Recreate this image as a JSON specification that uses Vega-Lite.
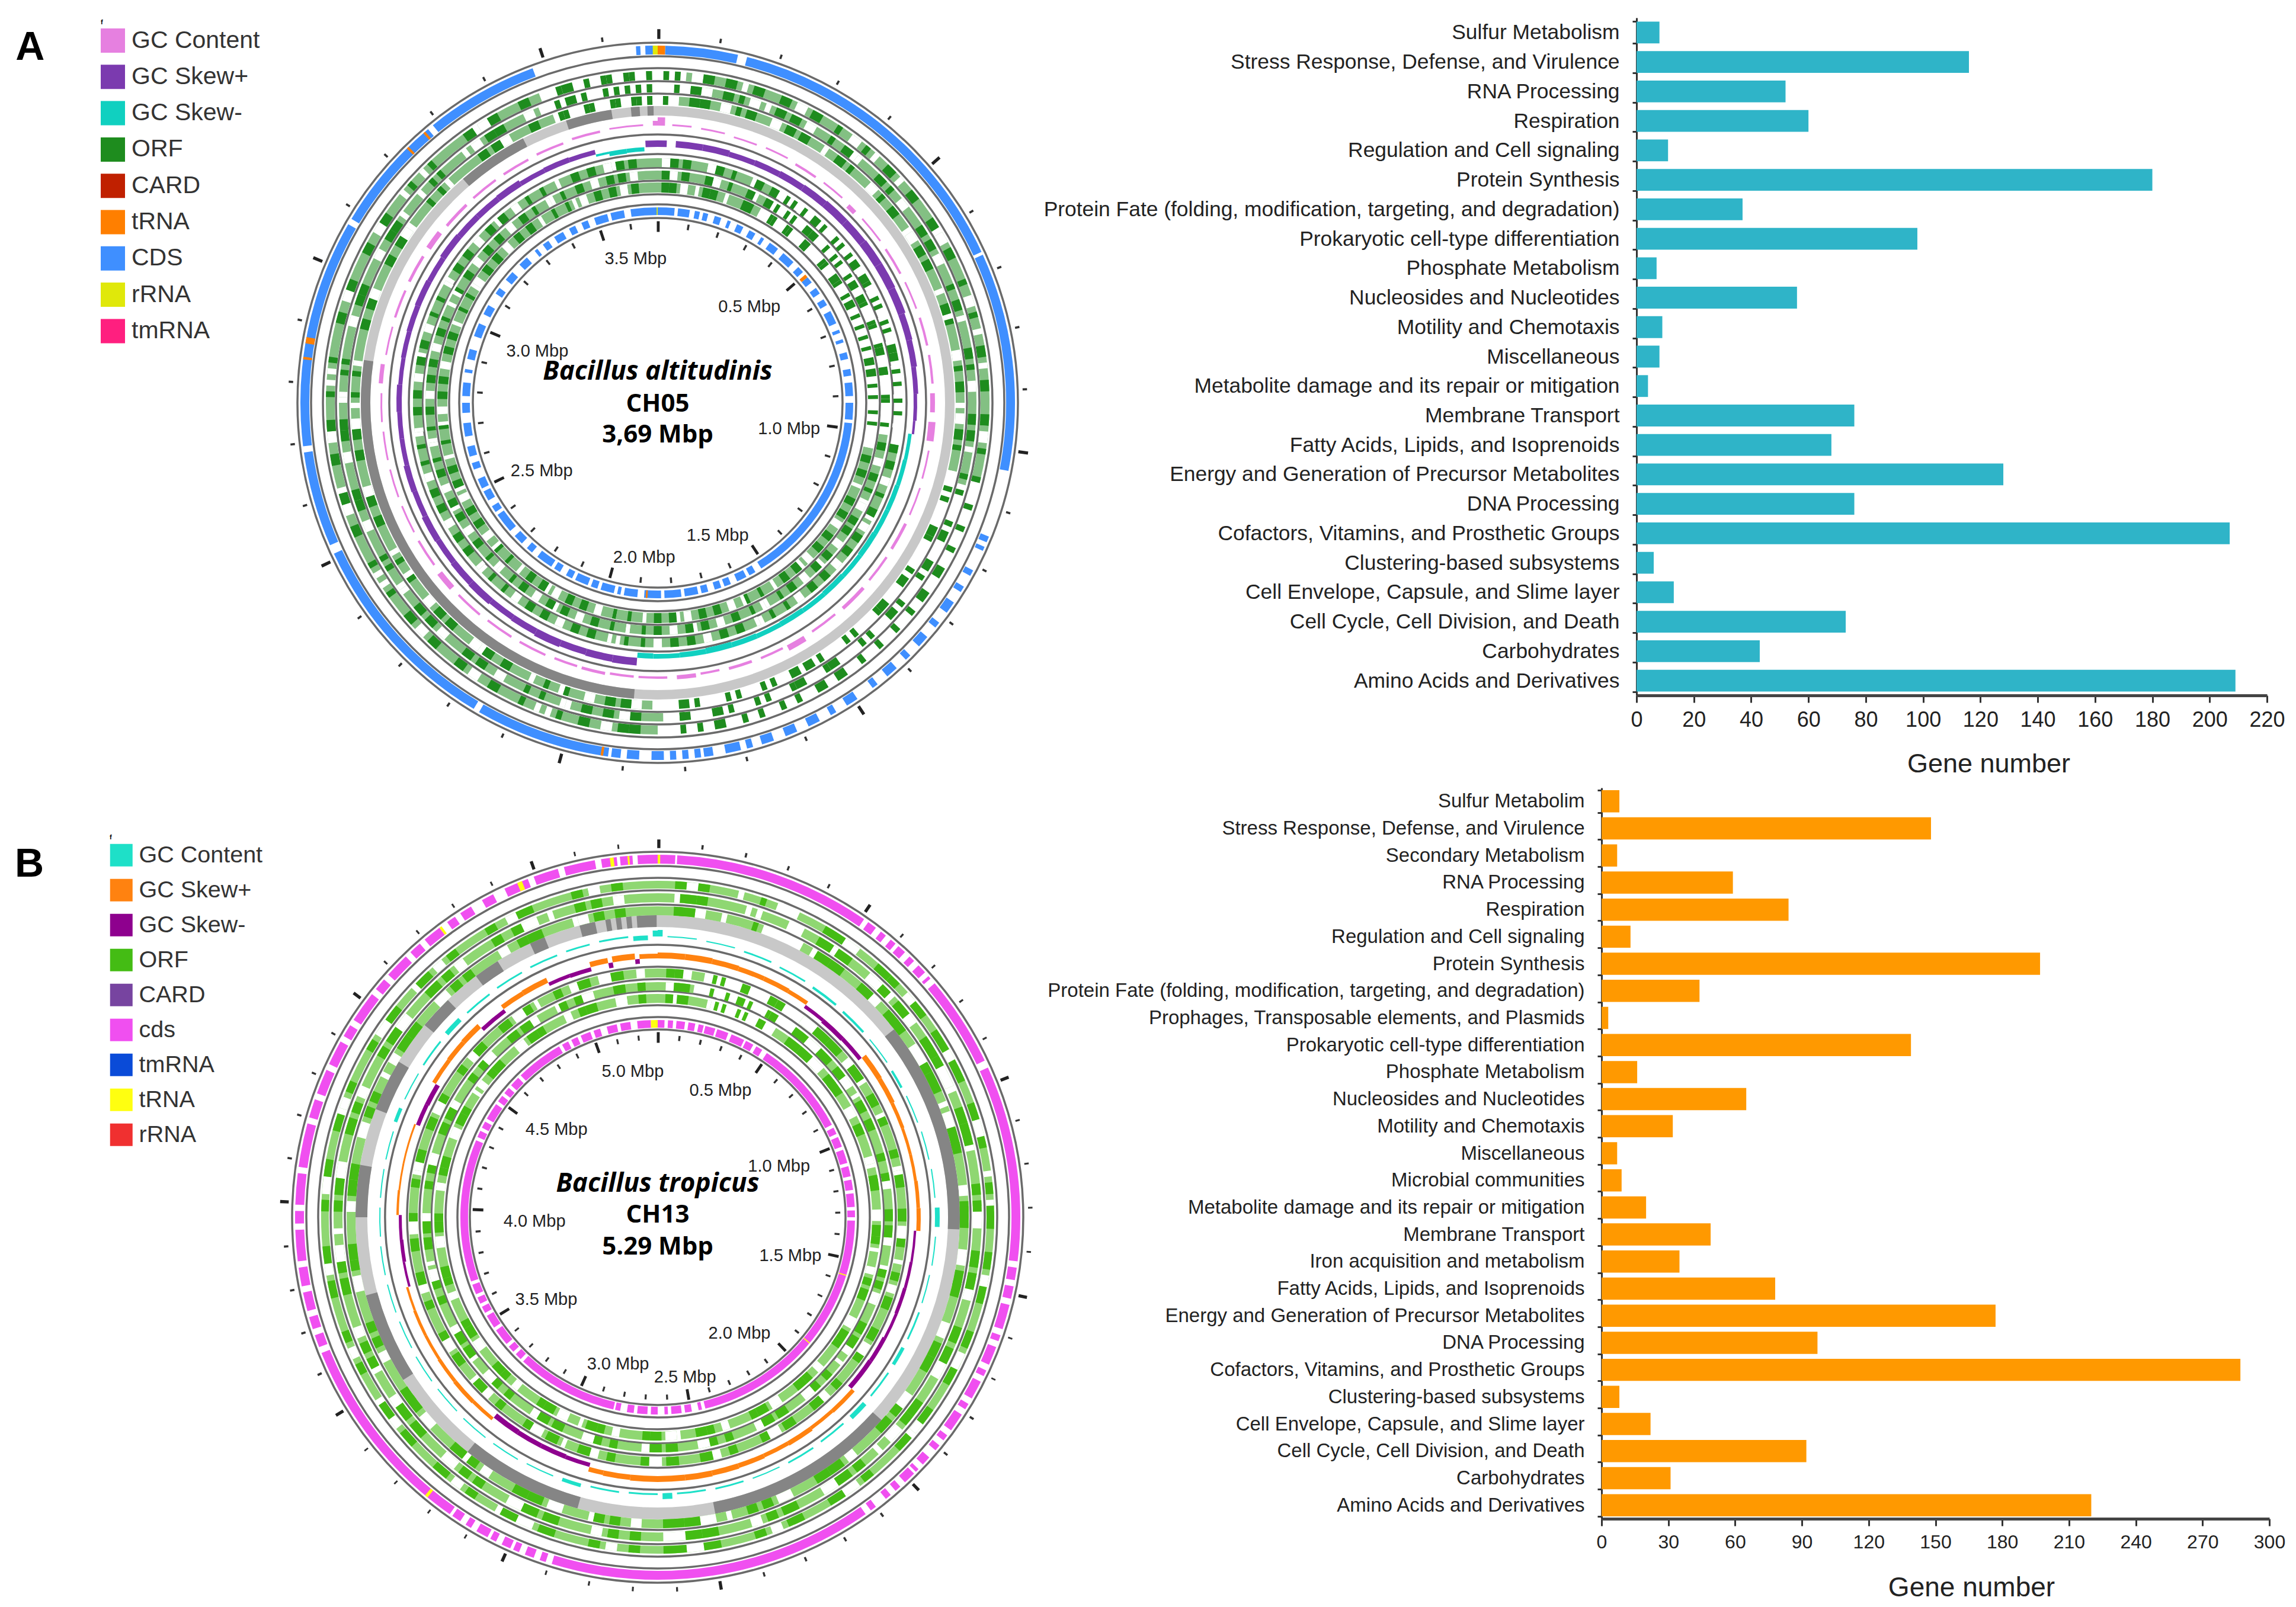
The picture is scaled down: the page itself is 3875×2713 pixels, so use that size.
{"$schema":"https://vega.github.io/schema/vega-lite/v6.json","padding":{"top":13,"left":0,"right":0,"bottom":0},"background":"white","spacing":-30,"config":{"view":{"stroke":null}},
"datasets":{
"barA":[{"c":"Sulfur Metabolism","v":8},{"c":"Stress Response, Defense, and Virulence","v":116},{"c":"RNA Processing","v":52},{"c":"Respiration","v":60},{"c":"Regulation and Cell signaling","v":11},{"c":"Protein Synthesis","v":180},{"c":"Protein Fate (folding, modification, targeting, and degradation)","v":37},{"c":"Prokaryotic cell-type differentiation","v":98},{"c":"Phosphate Metabolism","v":7},{"c":"Nucleosides and Nucleotides","v":56},{"c":"Motility and Chemotaxis","v":9},{"c":"Miscellaneous","v":8},{"c":"Metabolite damage and its repair or mitigation","v":4},{"c":"Membrane Transport","v":76},{"c":"Fatty Acids, Lipids, and Isoprenoids","v":68},{"c":"Energy and Generation of Precursor Metabolites","v":128},{"c":"DNA Processing","v":76},{"c":"Cofactors, Vitamins, and Prosthetic Groups","v":207},{"c":"Clustering-based subsystems","v":6},{"c":"Cell Envelope, Capsule, and Slime layer","v":13},{"c":"Cell Cycle, Cell Division, and Death","v":73},{"c":"Carbohydrates","v":43},{"c":"Amino Acids and Derivatives","v":209}],
"barB":[{"c":"Sulfur Metabolim","v":8},{"c":"Stress Response, Defense, and Virulence","v":148},{"c":"Secondary Metabolism","v":7},{"c":"RNA Processing","v":59},{"c":"Respiration","v":84},{"c":"Regulation and Cell signaling","v":13},{"c":"Protein Synthesis","v":197},{"c":"Protein Fate (folding, modification, targeting, and degradation)","v":44},{"c":"Prophages, Transposable elements, and Plasmids","v":3},{"c":"Prokaryotic cell-type differentiation","v":139},{"c":"Phosphate Metabolism","v":16},{"c":"Nucleosides and Nucleotides","v":65},{"c":"Motility and Chemotaxis","v":32},{"c":"Miscellaneous","v":7},{"c":"Microbial communities","v":9},{"c":"Metabolite damage and its repair or mitigation","v":20},{"c":"Membrane Transport","v":49},{"c":"Iron acquisition and metabolism","v":35},{"c":"Fatty Acids, Lipids, and Isoprenoids","v":78},{"c":"Energy and Generation of Precursor Metabolites","v":177},{"c":"DNA Processing","v":97},{"c":"Cofactors, Vitamins, and Prosthetic Groups","v":287},{"c":"Clustering-based subsystems","v":8},{"c":"Cell Envelope, Capsule, and Slime layer","v":22},{"c":"Cell Cycle, Cell Division, and Death","v":92},{"c":"Carbohydrates","v":31},{"c":"Amino Acids and Derivatives","v":220}],
"ringsA":[{"t":1,"i":545,"o":560},{"t":2,"i":524,"o":538},{"t":3,"i":503,"o":518},{"t":4,"i":398,"o":413},{"t":5,"i":377,"o":392},{"t":6,"i":355,"o":372},{"t":7,"i":588,"o":603},{"t":8,"i":317,"o":330},{"t":9,"i":485,"o":501}],
"ringsB":[{"t":1,"i":555,"o":568},{"t":2,"i":532,"o":547},{"t":3,"i":510,"o":525},{"t":4,"i":405,"o":420},{"t":5,"i":383,"o":397},{"t":6,"i":362,"o":377},{"t":7,"i":597,"o":612},{"t":8,"i":320,"o":333},{"t":9,"i":490,"o":510}],
"altA1":[{"t":1,"i":524,"o":538},{"t":2,"i":503,"o":518},{"t":3,"i":545,"o":560},{"t":4,"i":377,"o":392},{"t":5,"i":355,"o":372},{"t":6,"i":398,"o":413}],
"altA2":[{"t":1,"i":503,"o":518},{"t":2,"i":545,"o":560},{"t":3,"i":524,"o":538},{"t":4,"i":355,"o":372},{"t":5,"i":398,"o":413},{"t":6,"i":377,"o":392}],
"altB1":[{"t":1,"i":532,"o":547},{"t":2,"i":510,"o":525},{"t":3,"i":555,"o":568},{"t":4,"i":383,"o":397},{"t":5,"i":362,"o":377},{"t":6,"i":405,"o":420}],
"altB2":[{"t":1,"i":510,"o":525},{"t":2,"i":555,"o":568},{"t":3,"i":532,"o":547},{"t":4,"i":362,"o":377},{"t":5,"i":405,"o":420},{"t":6,"i":383,"o":397}],
"linesA":[{"r":608},{"r":585},{"r":565},{"r":543},{"r":522},{"r":453},{"r":420},{"r":397},{"r":375},{"r":352},{"r":335},{"r":312}],
"linesB":[{"r":617},{"r":593},{"r":573},{"r":552},{"r":528},{"r":460},{"r":423},{"r":402},{"r":382},{"r":358},{"r":338},{"r":317}],
"labA":[{"a":351.3,"r":246,"s":"3.5 Mbp"},{"a":43.7,"r":224,"s":"0.5 Mbp"},{"a":101.2,"r":226,"s":"1.0 Mbp"},{"a":155.7,"r":246,"s":"1.5 Mbp"},{"a":185,"r":262,"s":"2.0 Mbp"},{"a":239.6,"r":227,"s":"2.5 Mbp"},{"a":293.2,"r":221,"s":"3.0 Mbp"}],
"labB":[{"a":26.3,"r":239,"s":"0.5 Mbp"},{"a":67.2,"r":222,"s":"1.0 Mbp"},{"a":106.1,"r":233,"s":"1.5 Mbp"},{"a":144.9,"r":240,"s":"2.0 Mbp"},{"a":170.3,"r":274,"s":"2.5 Mbp"},{"a":195.1,"r":257,"s":"3.0 Mbp"},{"a":233.5,"r":234,"s":"3.5 Mbp"},{"a":268,"r":208,"s":"4.0 Mbp"},{"a":310.9,"r":226,"s":"4.5 Mbp"},{"a":350.3,"r":250,"s":"5.0 Mbp"}],
"majA":[{"a":0,"b":0.35},{"a":48.78,"b":49.13},{"a":97.56,"b":97.91},{"a":146.34,"b":146.69},{"a":195.12,"b":195.47},{"a":243.9,"b":244.25},{"a":292.68,"b":293.03},{"a":341.46,"b":341.81}],
"minA":[{"a":9.76,"b":9.96},{"a":19.51,"b":19.71},{"a":29.27,"b":29.47},{"a":39.02,"b":39.22},{"a":58.54,"b":58.74},{"a":68.29,"b":68.49},{"a":78.05,"b":78.25},{"a":87.8,"b":88},{"a":107.32,"b":107.52},{"a":117.07,"b":117.27},{"a":126.83,"b":127.03},{"a":136.59,"b":136.79},{"a":156.1,"b":156.3},{"a":165.85,"b":166.05},{"a":175.61,"b":175.81},{"a":185.37,"b":185.57},{"a":204.88,"b":205.08},{"a":214.63,"b":214.83},{"a":224.39,"b":224.59},{"a":234.15,"b":234.35},{"a":253.66,"b":253.86},{"a":263.41,"b":263.61},{"a":273.17,"b":273.37},{"a":282.93,"b":283.13},{"a":302.44,"b":302.64},{"a":312.2,"b":312.4},{"a":321.95,"b":322.15},{"a":331.71,"b":331.91},{"a":351.22,"b":351.42}],
"majB":[{"a":0,"b":0.35},{"a":34.03,"b":34.38},{"a":68.05,"b":68.4},{"a":102.08,"b":102.43},{"a":136.11,"b":136.46},{"a":170.13,"b":170.48},{"a":204.16,"b":204.51},{"a":238.19,"b":238.54},{"a":272.21,"b":272.56},{"a":306.24,"b":306.59},{"a":340.26,"b":340.61}],
"minB":[{"a":6.81,"b":7},{"a":13.61,"b":13.8},{"a":20.42,"b":20.6},{"a":27.22,"b":27.4},{"a":40.83,"b":41},{"a":47.64,"b":47.8},{"a":54.44,"b":54.6},{"a":61.25,"b":61.4},{"a":74.86,"b":75},{"a":81.66,"b":81.8},{"a":88.47,"b":88.6},{"a":95.27,"b":95.4},{"a":108.88,"b":109},{"a":115.69,"b":115.8},{"a":122.5,"b":122.7},{"a":129.3,"b":129.5},{"a":142.91,"b":143.1},{"a":149.72,"b":149.9},{"a":156.52,"b":156.7},{"a":163.33,"b":163.5},{"a":176.94,"b":177.1},{"a":183.75,"b":183.9},{"a":190.55,"b":190.7},{"a":197.36,"b":197.5},{"a":210.97,"b":211.1},{"a":217.77,"b":217.9},{"a":224.58,"b":224.7},{"a":231.38,"b":231.5},{"a":244.99,"b":245.2},{"a":251.8,"b":252},{"a":258.6,"b":258.8},{"a":265.41,"b":265.6},{"a":279.02,"b":279.2},{"a":285.82,"b":286},{"a":292.63,"b":292.8},{"a":299.43,"b":299.6},{"a":313.04,"b":313.2},{"a":319.85,"b":320},{"a":326.65,"b":326.8},{"a":333.46,"b":333.6},{"a":347.07,"b":347.2},{"a":353.87,"b":354}],
"greyDarkA":[{"t":9,"a":184.6,"b":278.3},{"t":9,"a":319,"b":333},{"t":9,"a":342,"b":351},{"t":9,"a":354.8,"b":356.5},{"t":9,"a":358,"b":359.2}],
"greyDarkB":[{"t":9,"a":51.5,"b":92.3},{"t":9,"a":132.2,"b":169},{"t":9,"a":195.4,"b":219},{"t":9,"a":237.4,"b":255},{"t":9,"a":270,"b":280},{"t":9,"a":291,"b":301},{"t":9,"a":309.5,"b":316},{"t":9,"a":323,"b":328},{"t":9,"a":335,"b":338},{"t":9,"a":345,"b":348},{"t":9,"a":350,"b":351},{"t":9,"a":352,"b":353},{"t":9,"a":354,"b":355},{"t":9,"a":356,"b":359.8}],
"cdsA":[{"t":7,"a":356.5,"b":357.2},{"t":7,"a":358,"b":359.3},{"t":7,"a":1.2,"b":13},{"t":7,"a":14.5,"b":65},{"t":7,"a":65.5,"b":101},{"t":7,"a":112,"b":113},{"t":7,"a":113.8,"b":114.5},{"t":7,"a":118,"b":119},{"t":7,"a":121,"b":122},{"t":7,"a":124,"b":126},{"t":7,"a":128,"b":129},{"t":7,"a":131,"b":133},{"t":7,"a":135,"b":136},{"t":7,"a":138,"b":140},{"t":7,"a":142,"b":143},{"t":7,"a":146,"b":148},{"t":7,"a":150,"b":151},{"t":7,"a":153,"b":155},{"t":7,"a":157,"b":159},{"t":7,"a":161,"b":163},{"t":7,"a":164.5,"b":165.5},{"t":7,"a":166.5,"b":169},{"t":7,"a":171,"b":172.5},{"t":7,"a":173,"b":174},{"t":7,"a":175,"b":176},{"t":7,"a":177,"b":178},{"t":7,"a":179,"b":181},{"t":7,"a":183,"b":185},{"t":7,"a":186,"b":187.5},{"t":7,"a":188,"b":210},{"t":7,"a":211,"b":245},{"t":7,"a":246.5,"b":262},{"t":7,"a":263,"b":300},{"t":7,"a":301,"b":320},{"t":7,"a":321,"b":339.5},
{"t":8,"a":352,"b":360},{"t":8,"a":0,"b":5},{"t":8,"a":6,"b":9.5},{"t":8,"a":11,"b":12.5},{"t":8,"a":13.5,"b":15},{"t":8,"a":17,"b":19},{"t":8,"a":21,"b":22},{"t":8,"a":24,"b":26},{"t":8,"a":28,"b":30},{"t":8,"a":32,"b":33},{"t":8,"a":35,"b":38},{"t":8,"a":40,"b":44},{"t":8,"a":46,"b":48},{"t":8,"a":50,"b":52},{"t":8,"a":54,"b":56},{"t":8,"a":58,"b":60},{"t":8,"a":62,"b":66},{"t":8,"a":68,"b":69},{"t":8,"a":71,"b":72},{"t":8,"a":75,"b":77},{"t":8,"a":80,"b":82},{"t":8,"a":84,"b":88},{"t":8,"a":90,"b":95},{"t":8,"a":96,"b":148},{"t":8,"a":150,"b":152},{"t":8,"a":153,"b":156},{"t":8,"a":158,"b":160},{"t":8,"a":161,"b":163},{"t":8,"a":165,"b":167},{"t":8,"a":168,"b":172},{"t":8,"a":173,"b":178},{"t":8,"a":179,"b":184},{"t":8,"a":186,"b":190},{"t":8,"a":191,"b":192},{"t":8,"a":193,"b":197},{"t":8,"a":198,"b":200},{"t":8,"a":201,"b":205},{"t":8,"a":206,"b":208},{"t":8,"a":210,"b":212},{"t":8,"a":213,"b":218},{"t":8,"a":220,"b":222},{"t":8,"a":224,"b":227},{"t":8,"a":229,"b":235},{"t":8,"a":236,"b":238},{"t":8,"a":240,"b":243},{"t":8,"a":244,"b":247},{"t":8,"a":250,"b":252},{"t":8,"a":254,"b":257},{"t":8,"a":260,"b":264},{"t":8,"a":267,"b":270},{"t":8,"a":272,"b":276},{"t":8,"a":279,"b":280},{"t":8,"a":283,"b":286},{"t":8,"a":290,"b":294},{"t":8,"a":297,"b":300},{"t":8,"a":304,"b":306},{"t":8,"a":309,"b":312},{"t":8,"a":315,"b":318},{"t":8,"a":321,"b":322},{"t":8,"a":324,"b":326},{"t":8,"a":328,"b":331},{"t":8,"a":333,"b":335},{"t":8,"a":337,"b":339},{"t":8,"a":341,"b":345},{"t":8,"a":346,"b":350}],
"cdsB":[{"t":7,"a":0,"b":2.8},{"t":7,"a":3.1,"b":34.7},{"t":7,"a":35.5,"b":37},{"t":7,"a":38,"b":39},{"t":7,"a":40,"b":41},{"t":7,"a":41.6,"b":43},{"t":7,"a":44,"b":45},{"t":7,"a":46,"b":47.5},{"t":7,"a":48.3,"b":48.8},{"t":7,"a":49.8,"b":64.4},{"t":7,"a":65.6,"b":97},{"t":7,"a":98,"b":100},{"t":7,"a":101,"b":103},{"t":7,"a":104,"b":108},{"t":7,"a":109,"b":110},{"t":7,"a":111,"b":114},{"t":7,"a":115,"b":116},{"t":7,"a":117,"b":120},{"t":7,"a":121,"b":122},{"t":7,"a":123,"b":126},{"t":7,"a":127,"b":128},{"t":7,"a":129,"b":130},{"t":7,"a":131.5,"b":133},{"t":7,"a":134,"b":134.6},{"t":7,"a":135,"b":137},{"t":7,"a":138,"b":139},{"t":7,"a":140,"b":141},{"t":7,"a":143,"b":144},{"t":7,"a":145,"b":197},{"t":7,"a":198,"b":199},{"t":7,"a":200,"b":201.5},{"t":7,"a":202.5,"b":203.5},{"t":7,"a":204,"b":205.5},{"t":7,"a":206.5,"b":207.5},{"t":7,"a":208,"b":210},{"t":7,"a":211,"b":212},{"t":7,"a":213,"b":214.5},{"t":7,"a":215,"b":248},{"t":7,"a":249,"b":251},{"t":7,"a":252,"b":254},{"t":7,"a":255,"b":258},{"t":7,"a":259,"b":262},{"t":7,"a":263,"b":268},{"t":7,"a":269,"b":271},{"t":7,"a":272,"b":277},{"t":7,"a":278,"b":285},{"t":7,"a":286,"b":289},{"t":7,"a":290,"b":294},{"t":7,"a":295,"b":299},{"t":7,"a":300,"b":302},{"t":7,"a":303,"b":308},{"t":7,"a":309,"b":311},{"t":7,"a":312,"b":316},{"t":7,"a":317,"b":319},{"t":7,"a":320,"b":323},{"t":7,"a":324.5,"b":326},{"t":7,"a":327,"b":329},{"t":7,"a":331,"b":333},{"t":7,"a":335,"b":339},{"t":7,"a":340,"b":344},{"t":7,"a":345,"b":350},{"t":7,"a":351,"b":353.5},{"t":7,"a":354,"b":356},{"t":7,"a":356.8,"b":360},
{"t":8,"a":0,"b":2},{"t":8,"a":3,"b":4.5},{"t":8,"a":5.5,"b":8},{"t":8,"a":9,"b":11},{"t":8,"a":12,"b":13.5},{"t":8,"a":14,"b":17},{"t":8,"a":17.6,"b":21},{"t":8,"a":22,"b":26},{"t":8,"a":26.6,"b":29},{"t":8,"a":30,"b":32},{"t":8,"a":33.6,"b":62},{"t":8,"a":63,"b":65},{"t":8,"a":66,"b":69},{"t":8,"a":70,"b":74},{"t":8,"a":75,"b":78},{"t":8,"a":79,"b":82},{"t":8,"a":83,"b":87},{"t":8,"a":88,"b":90},{"t":8,"a":91,"b":166},{"t":8,"a":167,"b":168},{"t":8,"a":170,"b":172},{"t":8,"a":173,"b":176},{"t":8,"a":177,"b":178},{"t":8,"a":180,"b":182},{"t":8,"a":183,"b":186},{"t":8,"a":187,"b":189},{"t":8,"a":191,"b":192.5},{"t":8,"a":193,"b":223},{"t":8,"a":224,"b":226},{"t":8,"a":227,"b":229},{"t":8,"a":230,"b":235},{"t":8,"a":236,"b":240},{"t":8,"a":241,"b":243},{"t":8,"a":244,"b":246},{"t":8,"a":247,"b":250},{"t":8,"a":251,"b":293},{"t":8,"a":294,"b":296},{"t":8,"a":297,"b":299},{"t":8,"a":300,"b":305},{"t":8,"a":306,"b":308},{"t":8,"a":309,"b":311},{"t":8,"a":312,"b":315},{"t":8,"a":316,"b":330},{"t":8,"a":331,"b":333},{"t":8,"a":334,"b":336},{"t":8,"a":337,"b":340},{"t":8,"a":341,"b":343},{"t":8,"a":345,"b":348},{"t":8,"a":349,"b":352},{"t":8,"a":354,"b":358}],
"rnaA":[{"t":7,"a":0,"b":1.2,"f":"tRNA"},{"t":7,"a":359.2,"b":360,"f":"rRNA"},{"t":7,"a":319,"b":319.4,"f":"tRNA"},{"t":7,"a":315.4,"b":315.8,"f":"tRNA"},{"t":7,"a":279.6,"b":280.6,"f":"tRNA"},{"t":7,"a":277,"b":277.4,"f":"tRNA"},{"t":7,"a":188.8,"b":189.2,"f":"tRNA"},{"t":8,"a":359.7,"b":360,"f":"rRNA"},{"t":8,"a":49,"b":50,"f":"tRNA"},{"t":8,"a":183,"b":183.5,"f":"tRNA"}],
"rnaB":[{"t":7,"a":0,"b":0.4,"f":"tRNA"},{"t":7,"a":352.4,"b":353,"f":"tRNA"},{"t":7,"a":355.2,"b":355.5,"f":"tRNA"},{"t":7,"a":337.2,"b":338,"f":"tRNA"},{"t":7,"a":323,"b":323.4,"f":"tRNA"},{"t":7,"a":219.4,"b":219.9,"f":"tRNA"},{"t":8,"a":358,"b":360,"f":"tRNA"},{"t":8,"a":107,"b":107.3,"f":"tRNA"},{"t":8,"a":129.5,"b":129.8,"f":"tRNA"}],
"gcA":[{"a":359,"b":360,"l":468,"h":476},{"a":0,"b":1.5,"l":468,"h":482},{"a":3,"b":7,"l":468,"h":471},{"a":9,"b":14,"l":467,"h":470},{"a":16,"b":21,"l":465,"h":468},{"a":23,"b":28,"l":466,"h":469},{"a":30,"b":35,"l":463,"h":467},{"a":37,"b":42,"l":464,"h":467},{"a":44,"b":46,"l":458,"h":466},{"a":48,"b":54,"l":463,"h":466},{"a":56,"b":62,"l":462,"h":466},{"a":64,"b":70,"l":463,"h":466},{"a":72,"b":78,"l":463,"h":467},{"a":80,"b":86,"l":463,"h":467},{"a":88,"b":92,"l":460,"h":468},{"a":94,"b":98,"l":458,"h":470},{"a":100,"b":106,"l":463,"h":466},{"a":108,"b":114,"l":464,"h":467},{"a":116,"b":122,"l":463,"h":468},{"a":124,"b":130,"l":464,"h":468},{"a":132,"b":138,"l":464,"h":470},{"a":140,"b":146,"l":464,"h":468},{"a":148,"b":152,"l":464,"h":474},{"a":153,"b":158,"l":463,"h":467},{"a":160,"b":165,"l":462,"h":467},{"a":167,"b":171,"l":461,"h":465},{"a":172,"b":176,"l":461,"h":468},{"a":178,"b":184,"l":462,"h":466},{"a":185,"b":190,"l":462,"h":466},{"a":191,"b":196,"l":463,"h":468},{"a":197,"b":202,"l":463,"h":467},{"a":204,"b":210,"l":464,"h":468},{"a":212,"b":218,"l":464,"h":468},{"a":220,"b":226,"l":465,"h":469},{"a":228,"b":232,"l":462,"h":472},{"a":234,"b":240,"l":464,"h":468},{"a":242,"b":248,"l":464,"h":467},{"a":250,"b":256,"l":464,"h":467},{"a":258,"b":264,"l":464,"h":467},{"a":266,"b":272,"l":465,"h":468},{"a":274,"b":278,"l":465,"h":472},{"a":280,"b":286,"l":464,"h":467},{"a":288,"b":294,"l":464,"h":468},{"a":296,"b":302,"l":464,"h":469},{"a":304,"b":308,"l":462,"h":471},{"a":310,"b":316,"l":462,"h":467},{"a":318,"b":324,"l":463,"h":467},{"a":326,"b":332,"l":463,"h":467},{"a":334,"b":340,"l":464,"h":468},{"a":342,"b":348,"l":466,"h":470},{"a":350,"b":357,"l":468,"h":471}],
"gcB":[{"a":359,"b":360,"l":474,"h":484},{"a":0,"b":1,"l":474,"h":485},{"a":2,"b":8,"l":473,"h":475},{"a":10,"b":16,"l":472,"h":474},{"a":18,"b":24,"l":470,"h":473},{"a":26,"b":32,"l":468,"h":471},{"a":34,"b":40,"l":466,"h":470},{"a":42,"b":48,"l":465,"h":469},{"a":50,"b":56,"l":466,"h":468},{"a":58,"b":62,"l":464,"h":468},{"a":64,"b":70,"l":466,"h":468},{"a":72,"b":78,"l":467,"h":469},{"a":80,"b":86,"l":468,"h":470},{"a":88,"b":92,"l":468,"h":476},{"a":94,"b":100,"l":469,"h":471},{"a":102,"b":108,"l":468,"h":470},{"a":110,"b":116,"l":468,"h":471},{"a":118,"b":122,"l":466,"h":472},{"a":124,"b":130,"l":468,"h":471},{"a":132,"b":136,"l":466,"h":474},{"a":138,"b":144,"l":467,"h":470},{"a":146,"b":152,"l":468,"h":471},{"a":154,"b":160,"l":468,"h":470},{"a":162,"b":168,"l":467,"h":470},{"a":170,"b":176,"l":466,"h":469},{"a":177,"b":179,"l":466,"h":476},{"a":180,"b":186,"l":466,"h":469},{"a":188,"b":194,"l":467,"h":470},{"a":196,"b":200,"l":468,"h":474},{"a":202,"b":208,"l":470,"h":472},{"a":210,"b":216,"l":471,"h":473},{"a":218,"b":224,"l":471,"h":473},{"a":226,"b":232,"l":470,"h":472},{"a":234,"b":240,"l":470,"h":472},{"a":242,"b":248,"l":469,"h":471},{"a":250,"b":256,"l":469,"h":471},{"a":258,"b":264,"l":469,"h":471},{"a":266,"b":272,"l":468,"h":470},{"a":274,"b":280,"l":468,"h":470},{"a":282,"b":288,"l":468,"h":470},{"a":290,"b":293,"l":468,"h":474},{"a":295,"b":301,"l":470,"h":472},{"a":303,"b":309,"l":470,"h":473},{"a":311,"b":315,"l":468,"h":476},{"a":317,"b":323,"l":470,"h":473},{"a":325,"b":331,"l":471,"h":474},{"a":333,"b":339,"l":472,"h":475},{"a":341,"b":346,"l":473,"h":476},{"a":348,"b":354,"l":474,"h":477},{"a":355,"b":358,"l":468,"h":476}],
"skPA":[{"a":357.3,"b":360,"v":443},{"a":0,"b":2,"v":443},{"a":4,"b":10,"v":443},{"a":10,"b":16,"v":443},{"a":16,"b":22,"v":441},{"a":22,"b":28,"v":442},{"a":28,"b":34,"v":443},{"a":34,"b":40,"v":444},{"a":40,"b":46,"v":445},{"a":46,"b":52,"v":445},{"a":52,"b":58,"v":446},{"a":58,"b":64,"v":446},{"a":64,"b":70,"v":445},{"a":70,"b":76,"v":443},{"a":76,"b":82,"v":442},{"a":82,"b":88,"v":440},{"a":88,"b":94,"v":438},{"a":94,"b":97,"v":436},{"a":184.6,"b":190,"v":445},{"a":190,"b":196,"v":444},{"a":196,"b":202,"v":443},{"a":202,"b":208,"v":445},{"a":208,"b":214,"v":443},{"a":214,"b":220,"v":442},{"a":220,"b":226,"v":444},{"a":226,"b":232,"v":443},{"a":232,"b":238,"v":442},{"a":238,"b":244,"v":443},{"a":244,"b":250,"v":441},{"a":250,"b":256,"v":442},{"a":256,"b":262,"v":440},{"a":262,"b":268,"v":440},{"a":268,"b":274,"v":441},{"a":274,"b":280,"v":439},{"a":280,"b":286,"v":440},{"a":286,"b":292,"v":441},{"a":292,"b":298,"v":442},{"a":298,"b":304,"v":441},{"a":304,"b":310,"v":443},{"a":310,"b":316,"v":442},{"a":316,"b":322,"v":442},{"a":322,"b":328,"v":443},{"a":328,"b":334,"v":440},{"a":334,"b":340,"v":441},{"a":340,"b":346,"v":440}],
"skMA":[{"a":97,"b":103,"v":426},{"a":103,"b":109,"v":425},{"a":109,"b":115,"v":424},{"a":115,"b":121,"v":424},{"a":121,"b":127,"v":423},{"a":127,"b":133,"v":424},{"a":133,"b":139,"v":423},{"a":139,"b":145,"v":424},{"a":145,"b":151,"v":423},{"a":151,"b":157,"v":424},{"a":157,"b":163,"v":423},{"a":163,"b":169,"v":422},{"a":169,"b":175,"v":423},{"a":175,"b":181,"v":424},{"a":181,"b":184.6,"v":423},{"a":346,"b":349,"v":428},{"a":349,"b":353,"v":424},{"a":353,"b":357,"v":425}],
"skPB":[{"a":0,"b":6,"v":447},{"a":6,"b":12,"v":447},{"a":12,"b":18,"v":446},{"a":18,"b":24,"v":445},{"a":24,"b":30,"v":445},{"a":30,"b":34.9,"v":444},{"a":52,"b":58,"v":446},{"a":58,"b":64,"v":445},{"a":64,"b":70,"v":443},{"a":70,"b":76,"v":442},{"a":76,"b":82,"v":442},{"a":82,"b":88,"v":443},{"a":88,"b":93,"v":444},{"a":131.5,"b":138,"v":444},{"a":138,"b":144,"v":443},{"a":144,"b":150,"v":445},{"a":150,"b":156,"v":444},{"a":156,"b":162,"v":445},{"a":162,"b":168,"v":446},{"a":168,"b":174,"v":447},{"a":174,"b":180,"v":447},{"a":180,"b":186,"v":447},{"a":186,"b":192,"v":446},{"a":192,"b":195.3,"v":445},{"a":219.3,"b":225,"v":443},{"a":225,"b":231,"v":444},{"a":231,"b":237,"v":443},{"a":237,"b":243,"v":442},{"a":243,"b":249,"v":442},{"a":249,"b":254.4,"v":441},{"a":270.5,"b":276,"v":441},{"a":276,"b":282,"v":440},{"a":282,"b":291,"v":440},{"a":301,"b":307,"v":444},{"a":307,"b":312,"v":445},{"a":312,"b":317,"v":446},{"a":323.5,"b":329,"v":445},{"a":329,"b":335,"v":446},{"a":345,"b":349,"v":446},{"a":350,"b":355,"v":447},{"a":356,"b":360,"v":445}],
"skMB":[{"a":34.9,"b":40,"v":431},{"a":40,"b":46,"v":429},{"a":46,"b":52,"v":430},{"a":93,"b":100,"v":433},{"a":100,"b":106,"v":432},{"a":106,"b":112,"v":431},{"a":112,"b":118,"v":432},{"a":118,"b":124,"v":430},{"a":124,"b":131.5,"v":429},{"a":195.3,"b":201,"v":430},{"a":201,"b":207,"v":429},{"a":207,"b":213,"v":429},{"a":213,"b":219.3,"v":428},{"a":254.4,"b":260,"v":433},{"a":260,"b":265,"v":431},{"a":265,"b":270.5,"v":432},{"a":291,"b":296,"v":430},{"a":296,"b":301,"v":429},{"a":317,"b":323.5,"v":430},{"a":335,"b":340,"v":431},{"a":340,"b":345,"v":430},{"a":349,"b":350,"v":428},{"a":355,"b":356,"v":429}],
"orfBaseA":[{"t":1,"a":5,"b":22},{"t":1,"a":23,"b":41},{"t":1,"a":42,"b":58},{"t":1,"a":59,"b":77},{"t":1,"a":78,"b":93},{"t":1,"a":94,"b":104},{"t":1,"a":180,"b":199},{"t":1,"a":200,"b":217},{"t":1,"a":218,"b":236},{"t":1,"a":237,"b":254},{"t":1,"a":255,"b":273},{"t":1,"a":274,"b":291},{"t":1,"a":292,"b":309},{"t":1,"a":310,"b":326},{"t":1,"a":327,"b":339},{"t":2,"a":6,"b":20},{"t":2,"a":21,"b":38},{"t":2,"a":39,"b":57},{"t":2,"a":58,"b":74},{"t":2,"a":75,"b":92},{"t":2,"a":93,"b":105},{"t":2,"a":179,"b":196},{"t":2,"a":197,"b":214},{"t":2,"a":215,"b":233},{"t":2,"a":234,"b":252},{"t":2,"a":253,"b":270},{"t":2,"a":271,"b":288},{"t":2,"a":289,"b":306},{"t":2,"a":307,"b":322},{"t":2,"a":323,"b":338},{"t":3,"a":4,"b":18},{"t":3,"a":19,"b":36},{"t":3,"a":37,"b":55},{"t":3,"a":56,"b":73},{"t":3,"a":74,"b":90},{"t":3,"a":91,"b":103},{"t":3,"a":181,"b":198},{"t":3,"a":199,"b":215},{"t":3,"a":216,"b":235},{"t":3,"a":236,"b":251},{"t":3,"a":252,"b":269},{"t":3,"a":270,"b":289},{"t":3,"a":290,"b":305},{"t":3,"a":306,"b":324},{"t":3,"a":325,"b":340},{"t":4,"a":350,"b":360},{"t":4,"a":0,"b":12},{"t":4,"a":13,"b":29},{"t":4,"a":100,"b":118},{"t":4,"a":119,"b":136},{"t":4,"a":137,"b":154},{"t":4,"a":155,"b":172},{"t":4,"a":173,"b":189},{"t":4,"a":190,"b":208},{"t":4,"a":209,"b":226},{"t":4,"a":227,"b":244},{"t":4,"a":245,"b":262},{"t":4,"a":263,"b":281},{"t":4,"a":282,"b":300},{"t":4,"a":301,"b":318},{"t":4,"a":319,"b":335},{"t":4,"a":336,"b":349},{"t":5,"a":348,"b":360},{"t":5,"a":0,"b":14},{"t":5,"a":15,"b":30},{"t":5,"a":98,"b":115},{"t":5,"a":116,"b":134},{"t":5,"a":135,"b":152},{"t":5,"a":153,"b":170},{"t":5,"a":171,"b":187},{"t":5,"a":188,"b":206},{"t":5,"a":207,"b":224},{"t":5,"a":225,"b":242},{"t":5,"a":243,"b":260},{"t":5,"a":261,"b":279},{"t":5,"a":280,"b":298},{"t":5,"a":299,"b":316},{"t":5,"a":317,"b":332},{"t":5,"a":333,"b":347},{"t":6,"a":352,"b":360},{"t":6,"a":0,"b":10},{"t":6,"a":11,"b":28},{"t":6,"a":102,"b":120},{"t":6,"a":121,"b":138},{"t":6,"a":139,"b":156},{"t":6,"a":157,"b":174},{"t":6,"a":175,"b":191},{"t":6,"a":192,"b":210},{"t":6,"a":211,"b":228},{"t":6,"a":229,"b":246},{"t":6,"a":247,"b":264},{"t":6,"a":265,"b":283},{"t":6,"a":284,"b":302},{"t":6,"a":303,"b":320},{"t":6,"a":321,"b":337},{"t":6,"a":338,"b":351}],
"orfDarkA":[{"t":1,"a":342,"b":343},{"t":1,"a":347,"b":348},{"t":1,"a":351,"b":352},{"t":1,"a":355,"b":356},{"t":1,"a":358,"b":359},{"t":1,"a":1,"b":2},{"t":1,"a":8,"b":10},{"t":1,"a":17,"b":19},{"t":1,"a":28,"b":30},{"t":1,"a":39,"b":40},{"t":1,"a":50,"b":52},{"t":1,"a":62,"b":64},{"t":1,"a":74,"b":75},{"t":1,"a":86,"b":88},{"t":1,"a":98,"b":99},{"t":1,"a":108,"b":109},{"t":1,"a":116,"b":117},{"t":1,"a":125,"b":127},{"t":1,"a":133,"b":134},{"t":1,"a":141,"b":142},{"t":1,"a":149,"b":151},{"t":1,"a":157,"b":158},{"t":1,"a":164,"b":165},{"t":1,"a":172,"b":173},{"t":1,"a":185,"b":187},{"t":1,"a":197,"b":198},{"t":1,"a":209,"b":211},{"t":1,"a":222,"b":224},{"t":1,"a":234,"b":235},{"t":1,"a":246,"b":248},{"t":1,"a":259,"b":261},{"t":1,"a":271,"b":272},{"t":1,"a":284,"b":286},{"t":1,"a":297,"b":299},{"t":1,"a":311,"b":312},{"t":1,"a":324,"b":326},{"t":1,"a":335,"b":337},
{"t":2,"a":343,"b":345},{"t":2,"a":350,"b":351},{"t":2,"a":354,"b":355},{"t":2,"a":358,"b":359},{"t":2,"a":3,"b":4},{"t":2,"a":12,"b":14},{"t":2,"a":22,"b":24},{"t":2,"a":33,"b":34},{"t":2,"a":44,"b":46},{"t":2,"a":56,"b":58},{"t":2,"a":68,"b":69},{"t":2,"a":80,"b":82},{"t":2,"a":92,"b":94},{"t":2,"a":103,"b":104},{"t":2,"a":112,"b":113},{"t":2,"a":120,"b":122},{"t":2,"a":129,"b":130},{"t":2,"a":137,"b":138},{"t":2,"a":145,"b":147},{"t":2,"a":154,"b":155},{"t":2,"a":161,"b":162},{"t":2,"a":168,"b":170},{"t":2,"a":175,"b":176},{"t":2,"a":183,"b":185},{"t":2,"a":192,"b":194},{"t":2,"a":204,"b":205},{"t":2,"a":216,"b":218},{"t":2,"a":228,"b":230},{"t":2,"a":240,"b":241},{"t":2,"a":252,"b":254},{"t":2,"a":265,"b":267},{"t":2,"a":277,"b":278},{"t":2,"a":290,"b":292},{"t":2,"a":303,"b":305},{"t":2,"a":316,"b":317},{"t":2,"a":329,"b":331},
{"t":3,"a":341,"b":342},{"t":3,"a":346,"b":347},{"t":3,"a":352,"b":353},{"t":3,"a":356,"b":357},{"t":3,"a":6,"b":8},{"t":3,"a":15,"b":16},{"t":3,"a":25,"b":27},{"t":3,"a":36,"b":38},{"t":3,"a":47,"b":48},{"t":3,"a":59,"b":61},{"t":3,"a":71,"b":73},{"t":3,"a":83,"b":84},{"t":3,"a":95,"b":97},{"t":3,"a":106,"b":107},{"t":3,"a":114,"b":116},{"t":3,"a":123,"b":124},{"t":3,"a":131,"b":133},{"t":3,"a":139,"b":140},{"t":3,"a":147,"b":148},{"t":3,"a":152,"b":154},{"t":3,"a":159,"b":160},{"t":3,"a":166,"b":167},{"t":3,"a":174,"b":176},{"t":3,"a":188,"b":190},{"t":3,"a":201,"b":202},{"t":3,"a":213,"b":215},{"t":3,"a":225,"b":227},{"t":3,"a":238,"b":239},{"t":3,"a":250,"b":252},{"t":3,"a":263,"b":265},{"t":3,"a":275,"b":276},{"t":3,"a":288,"b":290},{"t":3,"a":301,"b":303},{"t":3,"a":314,"b":315},{"t":3,"a":327,"b":329},
{"t":4,"a":3,"b":5},{"t":4,"a":14,"b":16},{"t":4,"a":24,"b":26},{"t":4,"a":32,"b":33},{"t":4,"a":37,"b":38},{"t":4,"a":43,"b":44},{"t":4,"a":49,"b":50},{"t":4,"a":54,"b":56},{"t":4,"a":60,"b":61},{"t":4,"a":66,"b":67},{"t":4,"a":72,"b":73},{"t":4,"a":78,"b":80},{"t":4,"a":85,"b":86},{"t":4,"a":92,"b":93},{"t":4,"a":104,"b":106},{"t":4,"a":116,"b":118},{"t":4,"a":127,"b":129},{"t":4,"a":139,"b":141},{"t":4,"a":151,"b":152},{"t":4,"a":163,"b":165},{"t":4,"a":175,"b":177},{"t":4,"a":187,"b":188},{"t":4,"a":199,"b":201},{"t":4,"a":211,"b":213},{"t":4,"a":223,"b":224},{"t":4,"a":235,"b":237},{"t":4,"a":247,"b":249},{"t":4,"a":259,"b":260},{"t":4,"a":271,"b":273},{"t":4,"a":283,"b":285},{"t":4,"a":295,"b":296},{"t":4,"a":307,"b":309},{"t":4,"a":319,"b":321},{"t":4,"a":331,"b":332},{"t":4,"a":343,"b":345},{"t":4,"a":353,"b":355},
{"t":5,"a":6,"b":8},{"t":5,"a":18,"b":19},{"t":5,"a":28,"b":30},{"t":5,"a":34,"b":35},{"t":5,"a":40,"b":42},{"t":5,"a":47,"b":48},{"t":5,"a":52,"b":53},{"t":5,"a":58,"b":60},{"t":5,"a":64,"b":65},{"t":5,"a":70,"b":71},{"t":5,"a":76,"b":78},{"t":5,"a":82,"b":83},{"t":5,"a":89,"b":90},{"t":5,"a":100,"b":102},{"t":5,"a":112,"b":113},{"t":5,"a":123,"b":125},{"t":5,"a":135,"b":137},{"t":5,"a":147,"b":148},{"t":5,"a":159,"b":161},{"t":5,"a":171,"b":173},{"t":5,"a":183,"b":184},{"t":5,"a":195,"b":197},{"t":5,"a":207,"b":209},{"t":5,"a":219,"b":220},{"t":5,"a":231,"b":233},{"t":5,"a":243,"b":245},{"t":5,"a":255,"b":256},{"t":5,"a":267,"b":269},{"t":5,"a":279,"b":281},{"t":5,"a":291,"b":292},{"t":5,"a":303,"b":305},{"t":5,"a":315,"b":317},{"t":5,"a":327,"b":328},{"t":5,"a":339,"b":341},{"t":5,"a":350,"b":352},
{"t":6,"a":1,"b":3},{"t":6,"a":12,"b":14},{"t":6,"a":23,"b":25},{"t":6,"a":31,"b":32},{"t":6,"a":36,"b":37},{"t":6,"a":42,"b":44},{"t":6,"a":50,"b":51},{"t":6,"a":56,"b":57},{"t":6,"a":62,"b":64},{"t":6,"a":69,"b":70},{"t":6,"a":75,"b":76},{"t":6,"a":81,"b":83},{"t":6,"a":88,"b":89},{"t":6,"a":95,"b":96},{"t":6,"a":108,"b":110},{"t":6,"a":120,"b":122},{"t":6,"a":131,"b":133},{"t":6,"a":143,"b":145},{"t":6,"a":155,"b":156},{"t":6,"a":167,"b":169},{"t":6,"a":179,"b":181},{"t":6,"a":191,"b":192},{"t":6,"a":203,"b":205},{"t":6,"a":215,"b":217},{"t":6,"a":227,"b":228},{"t":6,"a":239,"b":241},{"t":6,"a":251,"b":253},{"t":6,"a":263,"b":264},{"t":6,"a":275,"b":277},{"t":6,"a":287,"b":289},{"t":6,"a":299,"b":300},{"t":6,"a":311,"b":313},{"t":6,"a":323,"b":325},{"t":6,"a":335,"b":336},{"t":6,"a":347,"b":349}],
"orfBaseB":[{"t":1,"a":0,"b":14},{"t":1,"a":15,"b":21},{"t":1,"a":25,"b":44},{"t":1,"a":45,"b":62},{"t":1,"a":63,"b":82},{"t":1,"a":83,"b":104},{"t":1,"a":105,"b":130},{"t":1,"a":131,"b":156},{"t":1,"a":157,"b":183},{"t":1,"a":184,"b":208},{"t":1,"a":209,"b":236},{"t":1,"a":237,"b":262},{"t":1,"a":263,"b":288},{"t":1,"a":289,"b":313},{"t":1,"a":314,"b":336},{"t":1,"a":337,"b":348},{"t":1,"a":350,"b":360},{"t":2,"a":0,"b":16},{"t":2,"a":17,"b":24},{"t":2,"a":27,"b":46},{"t":2,"a":47,"b":66},{"t":2,"a":67,"b":88},{"t":2,"a":89,"b":110},{"t":2,"a":111,"b":136},{"t":2,"a":137,"b":161},{"t":2,"a":162,"b":188},{"t":2,"a":189,"b":214},{"t":2,"a":215,"b":241},{"t":2,"a":242,"b":267},{"t":2,"a":268,"b":293},{"t":2,"a":294,"b":318},{"t":2,"a":319,"b":340},{"t":2,"a":341,"b":360},{"t":3,"a":0,"b":12},{"t":3,"a":13,"b":20},{"t":3,"a":28,"b":48},{"t":3,"a":49,"b":68},{"t":3,"a":69,"b":90},{"t":3,"a":91,"b":114},{"t":3,"a":115,"b":140},{"t":3,"a":141,"b":166},{"t":3,"a":167,"b":192},{"t":3,"a":193,"b":218},{"t":3,"a":219,"b":245},{"t":3,"a":246,"b":271},{"t":3,"a":272,"b":297},{"t":3,"a":298,"b":322},{"t":3,"a":323,"b":344},{"t":3,"a":345,"b":360},{"t":4,"a":0,"b":11},{"t":4,"a":36,"b":56},{"t":4,"a":57,"b":78},{"t":4,"a":79,"b":100},{"t":4,"a":101,"b":125},{"t":4,"a":126,"b":150},{"t":4,"a":151,"b":176},{"t":4,"a":177,"b":202},{"t":4,"a":203,"b":228},{"t":4,"a":229,"b":254},{"t":4,"a":255,"b":280},{"t":4,"a":281,"b":306},{"t":4,"a":307,"b":330},{"t":4,"a":331,"b":346},{"t":4,"a":350,"b":360},{"t":5,"a":0,"b":9},{"t":5,"a":38,"b":58},{"t":5,"a":59,"b":80},{"t":5,"a":81,"b":102},{"t":5,"a":103,"b":128},{"t":5,"a":129,"b":154},{"t":5,"a":155,"b":180},{"t":5,"a":181,"b":206},{"t":5,"a":207,"b":232},{"t":5,"a":233,"b":258},{"t":5,"a":259,"b":284},{"t":5,"a":285,"b":310},{"t":5,"a":311,"b":334},{"t":5,"a":335,"b":360},{"t":6,"a":0,"b":14},{"t":6,"a":32,"b":54},{"t":6,"a":55,"b":76},{"t":6,"a":77,"b":98},{"t":6,"a":99,"b":122},{"t":6,"a":123,"b":148},{"t":6,"a":149,"b":174},{"t":6,"a":175,"b":200},{"t":6,"a":201,"b":226},{"t":6,"a":227,"b":252},{"t":6,"a":253,"b":278},{"t":6,"a":279,"b":304},{"t":6,"a":305,"b":328},{"t":6,"a":329,"b":350},{"t":6,"a":352,"b":360}],
"orfDarkB":[{"t":1,"a":3,"b":5},{"t":1,"a":18,"b":19},{"t":1,"a":31,"b":34},{"t":1,"a":41,"b":44},{"t":1,"a":50,"b":53},{"t":1,"a":62,"b":66},{"t":1,"a":76,"b":78},{"t":1,"a":88,"b":92},{"t":1,"a":102,"b":105},{"t":1,"a":117,"b":120},{"t":1,"a":131,"b":134},{"t":1,"a":146,"b":149},{"t":1,"a":161,"b":163},{"t":1,"a":175,"b":179},{"t":1,"a":190,"b":192},{"t":1,"a":205,"b":208},{"t":1,"a":219,"b":222},{"t":1,"a":233,"b":236},{"t":1,"a":248,"b":250},{"t":1,"a":262,"b":265},{"t":1,"a":277,"b":280},{"t":1,"a":292,"b":294},{"t":1,"a":306,"b":309},{"t":1,"a":321,"b":323},{"t":1,"a":335,"b":338},{"t":1,"a":352,"b":354},{"t":2,"a":7,"b":9},{"t":2,"a":30,"b":33},{"t":2,"a":44,"b":46},{"t":2,"a":56,"b":60},{"t":2,"a":70,"b":73},{"t":2,"a":84,"b":86},{"t":2,"a":96,"b":99},{"t":2,"a":110,"b":113},{"t":2,"a":125,"b":128},{"t":2,"a":140,"b":142},{"t":2,"a":154,"b":157},{"t":2,"a":169,"b":172},{"t":2,"a":183,"b":185},{"t":2,"a":198,"b":201},{"t":2,"a":213,"b":215},{"t":2,"a":227,"b":230},{"t":2,"a":242,"b":244},{"t":2,"a":256,"b":259},{"t":2,"a":271,"b":273},{"t":2,"a":285,"b":288},{"t":2,"a":300,"b":302},{"t":2,"a":314,"b":317},{"t":2,"a":329,"b":331},{"t":2,"a":345,"b":347},{"t":3,"a":4,"b":7},{"t":3,"a":34,"b":37},{"t":3,"a":48,"b":51},{"t":3,"a":60,"b":62},{"t":3,"a":73,"b":77},{"t":3,"a":87,"b":89},{"t":3,"a":100,"b":103},{"t":3,"a":114,"b":117},{"t":3,"a":128,"b":130},{"t":3,"a":143,"b":146},{"t":3,"a":158,"b":160},{"t":3,"a":172,"b":175},{"t":3,"a":187,"b":189},{"t":3,"a":202,"b":205},{"t":3,"a":216,"b":218},{"t":3,"a":231,"b":234},{"t":3,"a":245,"b":247},{"t":3,"a":260,"b":262},{"t":3,"a":274,"b":277},{"t":3,"a":289,"b":291},{"t":3,"a":303,"b":306},{"t":3,"a":318,"b":320},{"t":3,"a":333,"b":335},{"t":3,"a":348,"b":350},{"t":4,"a":2,"b":4},{"t":4,"a":15,"b":16},{"t":4,"a":21,"b":22},{"t":4,"a":27,"b":29},{"t":4,"a":40,"b":44},{"t":4,"a":52,"b":56},{"t":4,"a":66,"b":68},{"t":4,"a":80,"b":83},{"t":4,"a":95,"b":97},{"t":4,"a":109,"b":112},{"t":4,"a":124,"b":126},{"t":4,"a":138,"b":141},{"t":4,"a":153,"b":155},{"t":4,"a":167,"b":170},{"t":4,"a":182,"b":184},{"t":4,"a":196,"b":199},{"t":4,"a":211,"b":213},{"t":4,"a":225,"b":228},{"t":4,"a":240,"b":242},{"t":4,"a":254,"b":257},{"t":4,"a":269,"b":271},{"t":4,"a":283,"b":286},{"t":4,"a":298,"b":300},{"t":4,"a":312,"b":315},{"t":4,"a":327,"b":329},{"t":4,"a":341,"b":344},{"t":5,"a":4,"b":6},{"t":5,"a":13,"b":14},{"t":5,"a":20,"b":22},{"t":5,"a":29,"b":31},{"t":5,"a":44,"b":48},{"t":5,"a":60,"b":63},{"t":5,"a":74,"b":76},{"t":5,"a":88,"b":91},{"t":5,"a":103,"b":105},{"t":5,"a":117,"b":120},{"t":5,"a":132,"b":134},{"t":5,"a":146,"b":149},{"t":5,"a":161,"b":163},{"t":5,"a":175,"b":178},{"t":5,"a":190,"b":192},{"t":5,"a":204,"b":207},{"t":5,"a":219,"b":221},{"t":5,"a":233,"b":236},{"t":5,"a":248,"b":250},{"t":5,"a":262,"b":265},{"t":5,"a":277,"b":279},{"t":5,"a":291,"b":294},{"t":5,"a":306,"b":308},{"t":5,"a":320,"b":323},{"t":5,"a":335,"b":337},{"t":5,"a":349,"b":352},{"t":6,"a":5,"b":8},{"t":6,"a":17,"b":18},{"t":6,"a":23,"b":24},{"t":6,"a":28,"b":29},{"t":6,"a":36,"b":40},{"t":6,"a":50,"b":53},{"t":6,"a":65,"b":68},{"t":6,"a":79,"b":81},{"t":6,"a":92,"b":95},{"t":6,"a":106,"b":108},{"t":6,"a":121,"b":124},{"t":6,"a":136,"b":138},{"t":6,"a":150,"b":153},{"t":6,"a":165,"b":167},{"t":6,"a":179,"b":182},{"t":6,"a":194,"b":196},{"t":6,"a":208,"b":211},{"t":6,"a":223,"b":225},{"t":6,"a":237,"b":240},{"t":6,"a":252,"b":254},{"t":6,"a":266,"b":269},{"t":6,"a":281,"b":283},{"t":6,"a":295,"b":298},{"t":6,"a":310,"b":312},{"t":6,"a":324,"b":327},{"t":6,"a":339,"b":341},{"t":6,"a":355,"b":357}]
},
"vconcat":[
{"hconcat":[
{"width":2220,"height":1300,"layer":[
{"data":{"name":"linesA"},"mark":{"type":"arc","stroke":"#6A6A6A","strokeWidth":3.5,"fill":null},"encoding":{"theta":{"datum":0,"type":"quantitative","scale":{"domain":[0,360]}},"theta2":{"datum":360},"radius":{"field":"r","type":"quantitative","scale":{"type":"linear","domain":[0,1400],"range":[0,1400]}},"radius2":{"field":"r"}}},
{"data":{"values":[{"t":9,"a":0,"b":360}]},"transform":[{"lookup":"t","from":{"data":{"name":"ringsA"},"key":"t","fields":["i","o"]}}],"mark":{"type":"arc","color":"#C8C8C8"},"encoding":{"theta":{"field":"a","type":"quantitative"},"theta2":{"field":"b"},"radius":{"field":"i","type":"quantitative"},"radius2":{"field":"o"}}},
{"data":{"name":"greyDarkA"},"transform":[{"lookup":"t","from":{"data":{"name":"ringsA"},"key":"t","fields":["i","o"]}}],"mark":{"type":"arc","color":"#858585"},"encoding":{"theta":{"field":"a","type":"quantitative"},"theta2":{"field":"b"},"radius":{"field":"i","type":"quantitative"},"radius2":{"field":"o"}}},
{"data":{"name":"orfBaseA"},"transform":[{"lookup":"t","from":{"data":{"name":"ringsA"},"key":"t","fields":["i","o"]}}],"mark":{"type":"arc","color":"#83C083"},"encoding":{"theta":{"field":"a","type":"quantitative"},"theta2":{"field":"b"},"radius":{"field":"i","type":"quantitative"},"radius2":{"field":"o"}}},
{"data":{"name":"orfDarkA"},"transform":[{"lookup":"t","from":{"data":{"name":"altA1"},"key":"t","fields":["i","o"]}}],"mark":{"type":"arc","color":"#FFFFFF"},"encoding":{"theta":{"field":"a","type":"quantitative"},"theta2":{"field":"b"},"radius":{"field":"i","type":"quantitative"},"radius2":{"field":"o"}}},
{"data":{"name":"orfDarkA"},"transform":[{"lookup":"t","from":{"data":{"name":"ringsA"},"key":"t","fields":["i","o"]}}],"mark":{"type":"arc"},"encoding":{"theta":{"field":"a","type":"quantitative"},"theta2":{"field":"b"},"radius":{"field":"i","type":"quantitative"},"radius2":{"field":"o"},"color":{"datum":"ORF","scale":{"domain":["GC Content","GC Skew+","GC Skew-","ORF","CARD","tRNA","CDS","rRNA","tmRNA"],"range":["#E680E0","#7B3AAF","#10D0C0","#1E8C1E","#C02000","#FF7F00","#3F8FFF","#E0E80A","#FF1F7F"]},"legend":{"orient":"none","legendX":170,"legendY":2,"title":null,"symbolType":"square","symbolSize":1681,"symbolStrokeWidth":0,"symbolOpacity":1,"labelFont":"Liberation Sans","labelFontSize":41,"labelColor":"#333333","labelOffset":11,"rowPadding":19.3,"padding":0,"labelLimit":400}}}},
{"data":{"name":"orfDarkA"},"transform":[{"lookup":"t","from":{"data":{"name":"altA2"},"key":"t","fields":["i","o"]}}],"mark":{"type":"arc"},"encoding":{"theta":{"field":"a","type":"quantitative"},"theta2":{"field":"b"},"radius":{"field":"i","type":"quantitative"},"radius2":{"field":"o"},"color":{"datum":"ORF"}}},
{"data":{"name":"cdsA"},"transform":[{"lookup":"t","from":{"data":{"name":"ringsA"},"key":"t","fields":["i","o"]}}],"mark":{"type":"arc"},"encoding":{"theta":{"field":"a","type":"quantitative"},"theta2":{"field":"b"},"radius":{"field":"i","type":"quantitative"},"radius2":{"field":"o"},"color":{"datum":"CDS"}}},
{"data":{"name":"rnaA"},"transform":[{"lookup":"t","from":{"data":{"name":"ringsA"},"key":"t","fields":["i","o"]}}],"mark":{"type":"arc"},"encoding":{"theta":{"field":"a","type":"quantitative"},"theta2":{"field":"b"},"radius":{"field":"i","type":"quantitative"},"radius2":{"field":"o"},"color":{"field":"f"}}},
{"data":{"name":"gcA"},"mark":{"type":"arc"},"encoding":{"theta":{"field":"a","type":"quantitative"},"theta2":{"field":"b"},"radius":{"field":"l","type":"quantitative"},"radius2":{"field":"h"},"color":{"datum":"GC Content"}}},
{"data":{"name":"skPA"},"mark":{"type":"arc"},"encoding":{"theta":{"field":"a","type":"quantitative"},"theta2":{"field":"b"},"radius":{"field":"v","type":"quantitative"},"radius2":{"datum":432},"color":{"datum":"GC Skew+"}}},
{"data":{"name":"skMA"},"mark":{"type":"arc"},"encoding":{"theta":{"field":"a","type":"quantitative"},"theta2":{"field":"b"},"radius":{"field":"v","type":"quantitative"},"radius2":{"datum":432},"color":{"datum":"GC Skew-"}}},
{"data":{"name":"majA"},"mark":{"type":"arc","color":"#222222","stroke":"#222222","strokeWidth":1.5},"encoding":{"theta":{"field":"a","type":"quantitative"},"theta2":{"field":"b"},"radius":{"datum":615,"type":"quantitative"},"radius2":{"datum":630}}},
{"data":{"name":"minA"},"mark":{"type":"arc","color":"#333333","stroke":"#333333","strokeWidth":1.5},"encoding":{"theta":{"field":"a","type":"quantitative"},"theta2":{"field":"b"},"radius":{"datum":617,"type":"quantitative"},"radius2":{"datum":623}}},
{"data":{"name":"majA"},"mark":{"type":"arc","color":"#222222","stroke":"#222222","strokeWidth":3},"encoding":{"theta":{"field":"a","type":"quantitative"},"theta2":{"field":"b"},"radius":{"datum":290,"type":"quantitative"},"radius2":{"datum":305}}},
{"data":{"name":"minA"},"mark":{"type":"arc","color":"#333333","stroke":"#333333","strokeWidth":2.5},"encoding":{"theta":{"field":"a","type":"quantitative"},"theta2":{"field":"b"},"radius":{"datum":297,"type":"quantitative"},"radius2":{"datum":304}}},
{"data":{"name":"labA"},"mark":{"type":"text","font":"Liberation Sans","fontSize":29,"color":"#222222"},"encoding":{"theta":{"field":"a","type":"quantitative"},"radius":{"field":"r","type":"quantitative"},"text":{"field":"s"}}},
{"data":{"values":[{"a":299.5,"r":1217,"s":"A"}]},"mark":{"type":"text","font":"Liberation Sans","fontWeight":"bold","fontSize":68,"color":"#000000"},"encoding":{"theta":{"field":"a","type":"quantitative"},"radius":{"field":"r","type":"quantitative"},"text":{"field":"s"}}},
{"data":{"values":[{"a":0,"r":52,"s":"Bacillus altitudinis"}]},"mark":{"type":"text","font":"Open Sans","fontWeight":"bold","fontStyle":"italic","fontSize":44,"color":"#000000"},"encoding":{"theta":{"field":"a","type":"quantitative"},"radius":{"field":"r","type":"quantitative"},"text":{"field":"s"}}},
{"data":{"values":[{"a":180,"r":2,"s":"CH05"},{"a":180,"r":54,"s":"3,69 Mbp"}]},"mark":{"type":"text","font":"Open Sans","fontWeight":"bold","fontSize":42,"color":"#000000"},"encoding":{"theta":{"field":"a","type":"quantitative"},"radius":{"field":"r","type":"quantitative"},"text":{"field":"s"}}}
]},
{"width":1064,"height":1144,"data":{"name":"barA"},"mark":{"type":"bar","color":"#2FB4C8"},"encoding":{"y":{"field":"c","type":"nominal","sort":null,"title":null,"scale":{"paddingInner":0.26,"paddingOuter":0.13},"axis":{"labelFont":"Liberation Sans","labelFontSize":35.4,"labelColor":"#222222","labelLimit":1200,"labelPadding":22,"tickBand":"extent","tickSize":7,"tickColor":"#333333","tickWidth":3,"domainColor":"#333333","domainWidth":3}},"x":{"field":"v","type":"quantitative","scale":{"domain":[0,220]},"axis":{"values":[0,20,40,60,80,100,120,140,160,180,200,220],"labelFlush":false,"grid":false,"title":"Gene number","titleFont":"Liberation Sans","titleFontSize":45,"titleFontWeight":"normal","titleColor":"#222222","titleX":594,"titleY":93,"labelFont":"Liberation Sans","labelFontSize":36,"labelColor":"#222222","labelPadding":12,"tickColor":"#333333","tickWidth":3,"tickSize":12,"domainColor":"#444444","domainWidth":5}}}}
],"spacing":542,"bounds":"flush","resolve":{"scale":{"color":"independent","theta":"independent","radius":"independent"}}},
{"hconcat":[
{"width":2220,"height":1450,"layer":[
{"data":{"name":"linesB"},"mark":{"type":"arc","stroke":"#6A6A6A","strokeWidth":3.5,"fill":null},"encoding":{"theta":{"datum":0,"type":"quantitative","scale":{"domain":[0,360]}},"theta2":{"datum":360},"radius":{"field":"r","type":"quantitative","scale":{"type":"linear","domain":[0,1400],"range":[0,1400]}},"radius2":{"field":"r"}}},
{"data":{"values":[{"t":9,"a":0,"b":360}]},"transform":[{"lookup":"t","from":{"data":{"name":"ringsB"},"key":"t","fields":["i","o"]}}],"mark":{"type":"arc","color":"#C8C8C8"},"encoding":{"theta":{"field":"a","type":"quantitative"},"theta2":{"field":"b"},"radius":{"field":"i","type":"quantitative"},"radius2":{"field":"o"}}},
{"data":{"name":"greyDarkB"},"transform":[{"lookup":"t","from":{"data":{"name":"ringsB"},"key":"t","fields":["i","o"]}}],"mark":{"type":"arc","color":"#858585"},"encoding":{"theta":{"field":"a","type":"quantitative"},"theta2":{"field":"b"},"radius":{"field":"i","type":"quantitative"},"radius2":{"field":"o"}}},
{"data":{"name":"orfBaseB"},"transform":[{"lookup":"t","from":{"data":{"name":"ringsB"},"key":"t","fields":["i","o"]}}],"mark":{"type":"arc","color":"#8FD772"},"encoding":{"theta":{"field":"a","type":"quantitative"},"theta2":{"field":"b"},"radius":{"field":"i","type":"quantitative"},"radius2":{"field":"o"}}},
{"data":{"name":"orfDarkB"},"transform":[{"lookup":"t","from":{"data":{"name":"altB1"},"key":"t","fields":["i","o"]}}],"mark":{"type":"arc","color":"#FFFFFF"},"encoding":{"theta":{"field":"a","type":"quantitative"},"theta2":{"field":"b"},"radius":{"field":"i","type":"quantitative"},"radius2":{"field":"o"}}},
{"data":{"name":"orfDarkB"},"transform":[{"lookup":"t","from":{"data":{"name":"ringsB"},"key":"t","fields":["i","o"]}}],"mark":{"type":"arc"},"encoding":{"theta":{"field":"a","type":"quantitative"},"theta2":{"field":"b"},"radius":{"field":"i","type":"quantitative"},"radius2":{"field":"o"},"color":{"datum":"ORF","scale":{"domain":["GC Content","GC Skew+","GC Skew-","ORF","CARD","cds","tmRNA","tRNA","rRNA"],"range":["#1EE0C8","#FF8210","#8E008E","#44BC14","#7744A0","#F04FF0","#0A4BD8","#FFFF10","#F03030"]},"legend":{"orient":"none","legendX":185,"legendY":78,"title":null,"symbolType":"square","symbolSize":1444,"symbolStrokeWidth":0,"symbolOpacity":1,"labelFont":"Liberation Sans","labelFontSize":39.5,"labelColor":"#333333","labelOffset":10,"rowPadding":18,"padding":0,"labelLimit":400}}}},
{"data":{"name":"orfDarkB"},"transform":[{"lookup":"t","from":{"data":{"name":"altB2"},"key":"t","fields":["i","o"]}}],"mark":{"type":"arc"},"encoding":{"theta":{"field":"a","type":"quantitative"},"theta2":{"field":"b"},"radius":{"field":"i","type":"quantitative"},"radius2":{"field":"o"},"color":{"datum":"ORF"}}},
{"data":{"name":"cdsB"},"transform":[{"lookup":"t","from":{"data":{"name":"ringsB"},"key":"t","fields":["i","o"]}}],"mark":{"type":"arc"},"encoding":{"theta":{"field":"a","type":"quantitative"},"theta2":{"field":"b"},"radius":{"field":"i","type":"quantitative"},"radius2":{"field":"o"},"color":{"datum":"cds"}}},
{"data":{"name":"rnaB"},"transform":[{"lookup":"t","from":{"data":{"name":"ringsB"},"key":"t","fields":["i","o"]}}],"mark":{"type":"arc"},"encoding":{"theta":{"field":"a","type":"quantitative"},"theta2":{"field":"b"},"radius":{"field":"i","type":"quantitative"},"radius2":{"field":"o"},"color":{"field":"f"}}},
{"data":{"name":"gcB"},"mark":{"type":"arc"},"encoding":{"theta":{"field":"a","type":"quantitative"},"theta2":{"field":"b"},"radius":{"field":"l","type":"quantitative"},"radius2":{"field":"h"},"color":{"datum":"GC Content"}}},
{"data":{"name":"skPB"},"mark":{"type":"arc"},"encoding":{"theta":{"field":"a","type":"quantitative"},"theta2":{"field":"b"},"radius":{"field":"v","type":"quantitative"},"radius2":{"datum":437},"color":{"datum":"GC Skew+"}}},
{"data":{"name":"skMB"},"mark":{"type":"arc"},"encoding":{"theta":{"field":"a","type":"quantitative"},"theta2":{"field":"b"},"radius":{"field":"v","type":"quantitative"},"radius2":{"datum":437},"color":{"datum":"GC Skew-"}}},
{"data":{"name":"majB"},"mark":{"type":"arc","color":"#222222","stroke":"#222222","strokeWidth":1.5},"encoding":{"theta":{"field":"a","type":"quantitative"},"theta2":{"field":"b"},"radius":{"datum":624,"type":"quantitative"},"radius2":{"datum":637}}},
{"data":{"name":"minB"},"mark":{"type":"arc","color":"#333333","stroke":"#333333","strokeWidth":1.5},"encoding":{"theta":{"field":"a","type":"quantitative"},"theta2":{"field":"b"},"radius":{"datum":626,"type":"quantitative"},"radius2":{"datum":632}}},
{"data":{"name":"majB"},"mark":{"type":"arc","color":"#222222","stroke":"#222222","strokeWidth":3},"encoding":{"theta":{"field":"a","type":"quantitative"},"theta2":{"field":"b"},"radius":{"datum":296,"type":"quantitative"},"radius2":{"datum":311}}},
{"data":{"name":"minB"},"mark":{"type":"arc","color":"#333333","stroke":"#333333","strokeWidth":2.5},"encoding":{"theta":{"field":"a","type":"quantitative"},"theta2":{"field":"b"},"radius":{"datum":301,"type":"quantitative"},"radius2":{"datum":307}}},
{"data":{"name":"labB"},"mark":{"type":"text","font":"Liberation Sans","fontSize":29,"color":"#222222"},"encoding":{"theta":{"field":"a","type":"quantitative"},"radius":{"field":"r","type":"quantitative"},"text":{"field":"s"}}},
{"data":{"values":[{"a":299.3,"r":1216,"s":"B"}]},"mark":{"type":"text","font":"Liberation Sans","fontWeight":"bold","fontSize":68,"color":"#000000"},"encoding":{"theta":{"field":"a","type":"quantitative"},"radius":{"field":"r","type":"quantitative"},"text":{"field":"s"}}},
{"data":{"values":[{"a":0,"r":56,"s":"Bacillus tropicus"}]},"mark":{"type":"text","font":"Open Sans","fontWeight":"bold","fontStyle":"italic","fontSize":44,"color":"#000000"},"encoding":{"theta":{"field":"a","type":"quantitative"},"radius":{"field":"r","type":"quantitative"},"text":{"field":"s"}}},
{"data":{"values":[{"a":0,"r":4,"s":"CH13"},{"a":180,"r":50,"s":"5.29 Mbp"}]},"mark":{"type":"text","font":"Open Sans","fontWeight":"bold","fontSize":42,"color":"#000000"},"encoding":{"theta":{"field":"a","type":"quantitative"},"radius":{"field":"r","type":"quantitative"},"text":{"field":"s"}}}
]},
{"width":1127,"height":1234,"data":{"name":"barB"},"mark":{"type":"bar","color":"#FF9900"},"encoding":{"y":{"field":"c","type":"nominal","sort":null,"title":null,"scale":{"paddingInner":0.18,"paddingOuter":0.09},"axis":{"labelFont":"Liberation Sans","labelFontSize":33,"labelColor":"#222222","labelLimit":1200,"labelPadding":22,"tickBand":"extent","tickSize":7,"tickColor":"#333333","tickWidth":3,"domainColor":"#333333","domainWidth":3}},"x":{"field":"v","type":"quantitative","scale":{"domain":[0,300]},"axis":{"values":[0,30,60,90,120,150,180,210,240,270,300],"labelFlush":false,"grid":false,"title":"Gene number","titleFont":"Liberation Sans","titleFontSize":46,"titleFontWeight":"normal","titleColor":"#222222","titleX":624,"titleY":94,"labelFont":"Liberation Sans","labelFontSize":32,"labelColor":"#222222","labelPadding":12,"tickColor":"#333333","tickWidth":3,"tickSize":12,"domainColor":"#444444","domainWidth":5}}}}
],"spacing":483,"bounds":"flush","resolve":{"scale":{"color":"independent","theta":"independent","radius":"independent"}}}
],"resolve":{"scale":{"color":"independent","theta":"independent","radius":"independent"}}}
